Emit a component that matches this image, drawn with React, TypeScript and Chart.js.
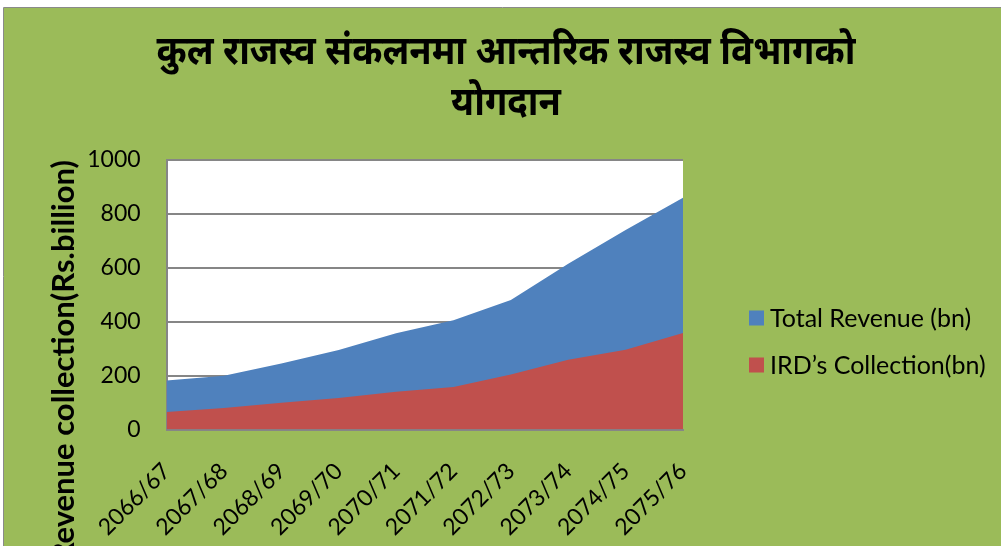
import React, { useEffect, useRef } from "react";
import { Chart, registerables } from "chart.js";

Chart.register(...registerables);

const titleLines = ["कुल राजस्व संकलनमा आन्तरिक राजस्व विभागको", "योगदान"];
const yAxisTitle = "Revenue collection(Rs.billion)";
const categories = ["2066/67", "2067/68", "2068/69", "2069/70", "2070/71", "2071/72", "2072/73", "2073/74", "2074/75", "2075/76"];
const totalRevenue = [182, 200, 245, 295, 357, 405, 481, 615, 740, 860];
const irdCollection = [65, 80, 99, 117, 140, 158, 204, 259, 296, 358];
const seriesNames = ["Total Revenue (bn)", "IRD’s Collection(bn)"];
const yTicks = { min: 0, max: 1000, step: 200 };

const GREEN = "#9BBB59";
const BLUE = "#4F81BD";
const RED = "#C0504D";
const GRID = "#868686";
const CLEAR = "rgba(0,0,0,0)";
const FONT = "Lato, 'Noto Sans', sans-serif";

const bgPlugin = {
  id: "bgPlugin",
  beforeDraw(chart: any) {
    const { ctx, width, height, chartArea } = chart;
    ctx.save();
    ctx.fillStyle = "#ffffff";
    ctx.fillRect(0, 0, width, height);
    ctx.fillStyle = GREEN;
    ctx.fillRect(4, 8, width - 4, height - 8);
    ctx.strokeStyle = "#8a8a8a";
    ctx.lineWidth = 1;
    ctx.beginPath();
    ctx.moveTo(3.5, height);
    ctx.lineTo(3.5, 7.5);
    ctx.lineTo(width, 7.5);
    ctx.stroke();
    ctx.fillStyle = "#ffffff";
    ctx.fillRect(chartArea.left, chartArea.top, chartArea.right - chartArea.left, chartArea.bottom - chartArea.top);
    ctx.restore();
  },
};

const titlePlugin = {
  id: "titlePlugin",
  afterDraw(chart: any) {
    const { ctx } = chart;
    ctx.save();
    ctx.font = `bold 40px 'Noto Sans', sans-serif`;
    ctx.fillStyle = "#000";
    ctx.textAlign = "center";
    ctx.textBaseline = "middle";
    titleLines.forEach((line, i) => {
      ctx.save();
      ctx.translate(506, 53 + i * 50.5);
      ctx.scale(0.91, 1);
      ctx.fillText(line, 0, 0);
      ctx.restore();
    });
    ctx.restore();
  },
};

const legendPlugin = {
  id: "customLegend",
  afterDraw(chart: any) {
    const { ctx } = chart;
    const items = [
      { text: seriesNames[0], color: BLUE },
      { text: seriesNames[1], color: RED },
    ];
    ctx.save();
    ctx.font = `25px ${FONT}`;
    ctx.textBaseline = "middle";
    items.forEach((it, i) => {
      const cy = 318 + i * 47;
      ctx.fillStyle = it.color;
      ctx.fillRect(749, cy - 7.5, 15, 15);
      ctx.fillStyle = "#000";
      ctx.fillText(it.text, 770, cy + 1);
    });
    ctx.restore();
  },
};

export default function App() {
  const ref = useRef<HTMLCanvasElement | null>(null);
  useEffect(() => {
    if (!ref.current) return;
    const chart = new Chart(ref.current, {
      type: "line",
      data: {
        labels: categories,
        datasets: [
          {
            label: seriesNames[1],
            data: irdCollection,
            backgroundColor: RED,
            borderColor: RED,
            borderWidth: 0,
            pointRadius: 0,
            fill: "origin",
            tension: 0,
          },
          {
            label: seriesNames[0],
            data: totalRevenue,
            backgroundColor: BLUE,
            borderColor: BLUE,
            borderWidth: 0,
            pointRadius: 0,
            fill: "origin",
            tension: 0,
          },
        ],
      },
      options: {
        animation: false,
        responsive: true,
        maintainAspectRatio: false,
        layout: { padding: { left: 0, right: 318, top: 160, bottom: 5 } },
        plugins: {
          legend: { display: false },
          tooltip: { enabled: false },
          title: { display: false },
        },
        scales: {
          x: {
            grid: { display: true, color: CLEAR, drawTicks: true, tickLength: 28, tickColor: CLEAR },
            border: { display: true, color: GRID, width: 2 },
            ticks: {
              autoSkip: false,
              maxRotation: 45,
              minRotation: 45,
              padding: 0,
              color: "#000",
              font: { family: FONT, size: 23 },
            },
          },
          y: {
            min: yTicks.min,
            max: yTicks.max,
            grid: { color: GRID, lineWidth: 2, drawTicks: true, tickLength: 26, tickColor: CLEAR },
            border: { display: true, color: GRID, width: 2 },
            ticks: {
              stepSize: yTicks.step,
              padding: 0,
              color: "#000",
              font: { family: FONT, size: 23 },
              callback: (v: any) => String(v),
            },
            title: {
              display: true,
              text: yAxisTitle,
              align: "end",
              color: "#000",
              font: { family: FONT, size: 31, weight: "bold" },
              padding: { top: 45, bottom: 5 },
            },
          },
        },
      },
      plugins: [bgPlugin, titlePlugin, legendPlugin],
    });
    return () => chart.destroy();
  }, []);
  return (
    <div style={{ position: "fixed", left: 0, top: 0, width: 1001, height: 546 }}>
      <canvas ref={ref} />
    </div>
  );
}
